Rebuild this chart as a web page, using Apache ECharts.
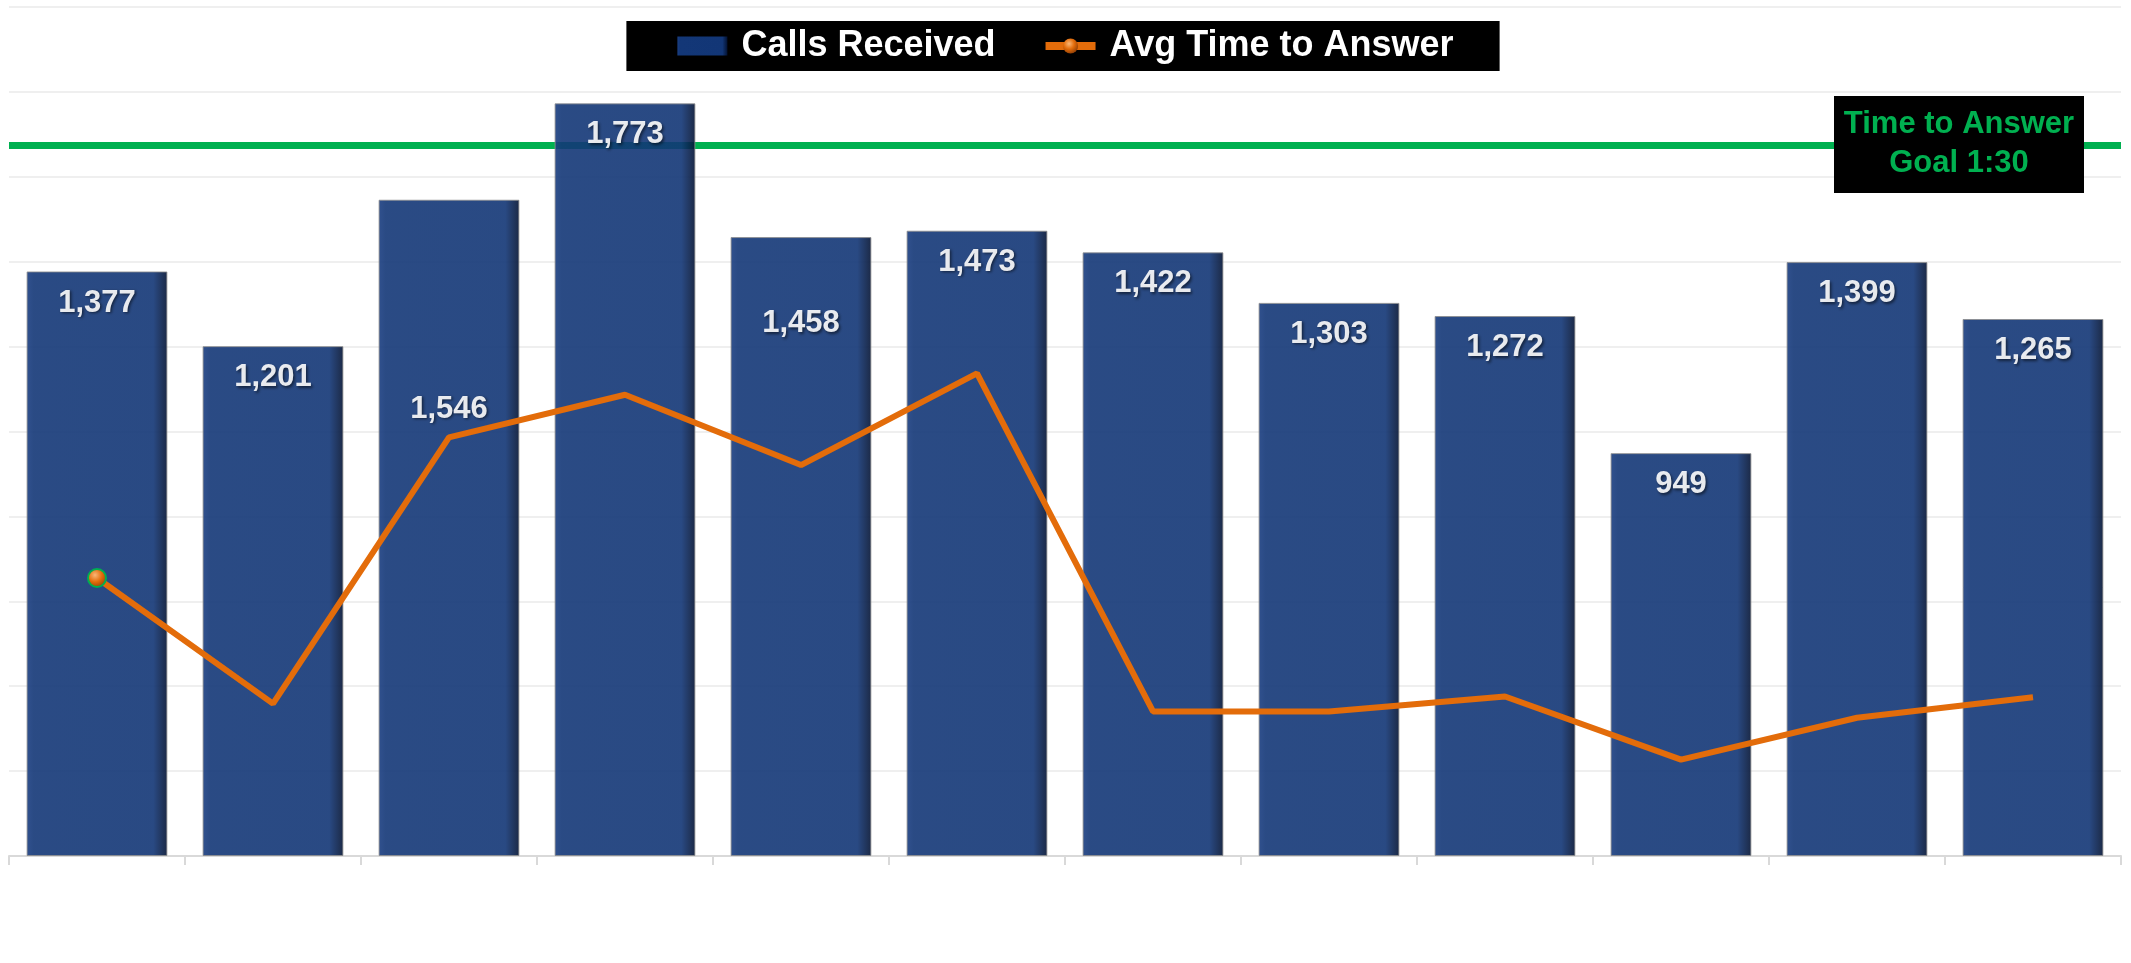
<!DOCTYPE html>
<html>
<head>
<meta charset="utf-8">
<script src="https://cdn.jsdelivr.net/npm/echarts@6/dist/echarts.min.js"></script>
<style>
  html, body { margin: 0; padding: 0; background: #fff; }
  #chart { width: 2131px; height: 963px; }
</style>
</head>
<body>
<div id="chart"></div>
<script>
  // categories have no visible labels in the picture
  const months = ['Jan', 'Feb', 'Mar', 'Apr', 'May', 'Jun', 'Jul', 'Aug', 'Sep', 'Oct', 'Nov', 'Dec'];
  const callsReceived = [1377, 1201, 1546, 1773, 1458, 1473, 1422, 1303, 1272, 949, 1399, 1265];
  // average time to answer, seconds
  const avgAnswerSec = [35.2, 19.3, 53.0, 58.4, 49.5, 61.1, 18.3, 18.3, 20.2, 12.2, 17.5, 20.1];
  const answerGoalSec = 90;   // 1:30
  const callsTicks = { min: 0, max: 2000, step: 200 };

  // two labels were dragged down by hand in the original
  const labelDrop = { 2: 178, 4: 55 };

  const orange = '#e36c0a';
  const green = '#00b050';

  // bars are slightly see-through (goal line shows through the tall one)
  const barFill = new echarts.graphic.LinearGradient(0, 0, 1, 0, [
    { offset: 0, color: '#1a3e82' },
    { offset: 0.05, color: '#133777' },
    { offset: 0.9, color: '#123676' },
    { offset: 1, color: '#031232' }
  ]);
  const sphere = new echarts.graphic.RadialGradient(0.4, 0.35, 0.7, [
    { offset: 0, color: '#f9b777' },
    { offset: 0.5, color: orange },
    { offset: 1, color: '#8a3b05' }
  ]);

  const barData = callsReceived.map((v, i) => {
    if (labelDrop[i] == null) return v;
    return { value: v, label: { offset: [0, labelDrop[i]] } };
  });
  // only the first point keeps its marker
  const lineData = avgAnswerSec.map((v, i) => i === 0 ? v : { value: v, symbol: 'none' });

  const chart = echarts.init(document.getElementById('chart'));
  chart.setOption({
    animation: false,
    grid: { left: 9, right: 10, top: 7, bottom: 107, containLabel: false },
    legend: {
      data: [
        { name: 'Calls Received', icon: 'rect', itemStyle: { borderWidth: 0, opacity: 1 } },
        { name: 'Avg Time to Answer', itemStyle: { borderWidth: 0 }, lineStyle: { width: 8 } }
      ],
      left: 'center',
      top: 21,
      backgroundColor: '#000',
      padding: [7, 46, 7, 51],
      itemGap: 46,
      itemWidth: 50,
      itemHeight: 19,
      textStyle: {
        color: '#fff',
        fontFamily: 'Liberation Sans, Arial, sans-serif',
        fontWeight: 'bold',
        fontSize: 36,
        lineHeight: 36,
        padding: [0, 0, 0, 9]
      }
    },
    xAxis: {
      type: 'category',
      data: months,
      axisLine: { lineStyle: { color: '#d9d9d9', width: 2 } },
      axisTick: { show: true, length: 9, lineStyle: { color: '#d9d9d9', width: 2 } },
      axisLabel: { show: false }
    },
    yAxis: [
      {
        type: 'value',
        min: callsTicks.min,
        max: callsTicks.max,
        interval: callsTicks.step,
        axisLine: { show: false },
        axisTick: { show: false },
        axisLabel: { show: false },
        splitLine: { lineStyle: { color: '#efefef', width: 2 } }
      },
      {
        type: 'value',
        min: 0,
        max: 107.5,
        show: false,
        splitLine: { show: false }
      }
    ],
    series: [
      {
        name: 'Goal',
        type: 'line',
        yAxisIndex: 1,
        data: [],
        z: 1,
        markLine: {
          silent: true,
          z: 1,
          symbol: 'none',
          label: { show: false },
          lineStyle: { color: green, width: 7, type: 'solid' },
          data: [{ yAxis: answerGoalSec }]
        }
      },
      {
        name: 'Calls Received',
        type: 'bar',
        data: barData,
        z: 2,
        barCategoryGap: '20%',
        itemStyle: {
          color: barFill,
          opacity: 0.9,
          borderColor: 'rgba(140,140,140,0.9)',
          borderWidth: 1
        },
        label: {
          show: true,
          position: 'insideTop',
          distance: 16,
          color: '#fff',
          fontFamily: 'Liberation Sans, Arial, sans-serif',
          fontWeight: 'bold',
          fontSize: 31,
          lineHeight: 31,
          textShadowColor: 'rgba(0,0,0,0.6)',
          textShadowBlur: 3,
          textShadowOffsetX: 1.5,
          textShadowOffsetY: 1.5,
          formatter: p => p.value.toLocaleString('en-US')
        }
      },
      {
        name: 'Avg Time to Answer',
        type: 'line',
        yAxisIndex: 1,
        data: lineData,
        z: 3,
        symbol: 'circle',
        symbolSize: 18,
        showAllSymbol: true,
        lineStyle: { color: orange, width: 6 },
        itemStyle: { color: sphere, borderColor: green, borderWidth: 2 }
      }
    ],
    graphic: [
      {
        type: 'rect',
        left: 1834,
        top: 96,
        shape: { width: 250, height: 97 },
        style: { fill: '#000' },
        z: 10
      },
      {
        type: 'text',
        x: 1959,
        y: 144,
        z: 11,
        style: {
          text: 'Time to Answer\nGoal 1:30',
          fill: green,
          font: 'bold 31px "Liberation Sans", Arial, sans-serif',
          lineHeight: 39,
          textAlign: 'center',
          textVerticalAlign: 'middle'
        }
      }
    ]
  });
</script>
</body>
</html>
